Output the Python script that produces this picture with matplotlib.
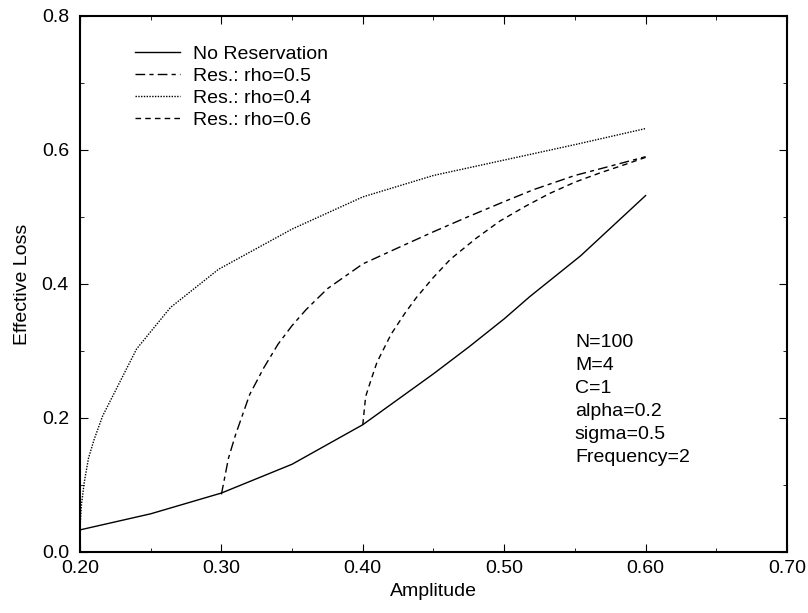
import numpy as np
import matplotlib.pyplot as plt

# 读图得到的数据点
amp_none = [0.20, 0.25, 0.30, 0.35, 0.40, 0.427, 0.45, 0.475, 0.50, 0.518, 0.554, 0.60]
loss_none = [0.033, 0.057, 0.088, 0.131, 0.19, 0.231, 0.266, 0.306, 0.348, 0.381, 0.442, 0.532]

amp_r05 = [0.30, 0.305, 0.31, 0.32, 0.33, 0.34, 0.35, 0.36, 0.375, 0.40, 0.427, 0.45, 0.474, 0.50, 0.521, 0.55, 0.568, 0.60]
loss_r05 = [0.086, 0.14, 0.175, 0.235, 0.275, 0.31, 0.338, 0.362, 0.393, 0.43, 0.456, 0.478, 0.50, 0.523, 0.541, 0.562, 0.572, 0.59]

amp_r04 = [0.20, 0.201, 0.203, 0.206, 0.21, 0.216, 0.228, 0.24, 0.264, 0.298, 0.35, 0.40, 0.45, 0.50, 0.55, 0.60]
loss_r04 = [0.036, 0.07, 0.104, 0.14, 0.168, 0.203, 0.253, 0.303, 0.365, 0.422, 0.482, 0.53, 0.562, 0.585, 0.608, 0.632]

amp_r06 = [0.40, 0.402, 0.406, 0.41, 0.42, 0.43, 0.438, 0.45, 0.462, 0.48, 0.497, 0.515, 0.532, 0.55, 0.568, 0.585, 0.60]
loss_r06 = [0.19, 0.232, 0.258, 0.283, 0.325, 0.357, 0.38, 0.41, 0.437, 0.468, 0.494, 0.516, 0.535, 0.552, 0.566, 0.578, 0.589]

param_lines = ['N=100', 'M=4', 'C=1', 'alpha=0.2', 'sigma=0.5', 'Frequency=2']

plt.rcParams['font.family'] = ['Liberation Sans', 'DejaVu Sans']

fig = plt.figure(figsize=(8.08, 6.13), dpi=100)
ax = fig.add_axes([80/808, 1-552/613, 707/808, 536/613])

ax.plot(amp_none, loss_none, color='k', linewidth=1.0, label='No Reservation')
ax.plot(amp_r05, loss_r05, color='k', linewidth=1.0, dashes=[7, 3, 3, 3], label='Res.: rho=0.5')
ax.plot(amp_r04, loss_r04, color='k', linewidth=1.0, dashes=[1, 1], label='Res.: rho=0.4')
ax.plot(amp_r06, loss_r06, color='k', linewidth=1.0, dashes=[4, 3], label='Res.: rho=0.6')

ax.set_xlim(0.2, 0.7)
ax.set_ylim(0.0, 0.8)
ax.set_xticks(np.arange(0.2, 0.71, 0.1))
ax.set_xticks(np.arange(0.25, 0.70, 0.1), minor=True)
ax.set_yticks(np.arange(0.0, 0.81, 0.2))
ax.set_yticks(np.arange(0.1, 0.8, 0.2), minor=True)
ax.set_xticklabels([f'{v:.2f}' for v in np.arange(0.2, 0.71, 0.1)])
ax.set_yticklabels([f'{v:.1f}' for v in np.arange(0.0, 0.81, 0.2)])
ax.tick_params(which='both', direction='in', top=True, right=True, labelsize=14)
ax.tick_params(axis='x', pad=6)
ax.tick_params(axis='y', pad=8)
ax.tick_params(which='major', length=6)
ax.tick_params(which='minor', length=3)
for s in ax.spines.values():
    s.set_linewidth(1.5)

ax.set_xlabel('Amplitude', fontsize=14, labelpad=4)
ax.set_ylabel('Effective Loss', fontsize=14, labelpad=8)

# 图例
ax.legend(loc='upper left', bbox_to_anchor=(0.078, 0.945), frameon=False, fontsize=14,
          handlelength=2.3, handletextpad=0.67, labelspacing=0.22, borderpad=0, borderaxespad=0)

# 参数说明
ax.text(0.550, 0.325, '\n'.join(param_lines), fontsize=14, va='top', ha='left', linespacing=1.45)

fig.savefig('out.png', dpi=100)
